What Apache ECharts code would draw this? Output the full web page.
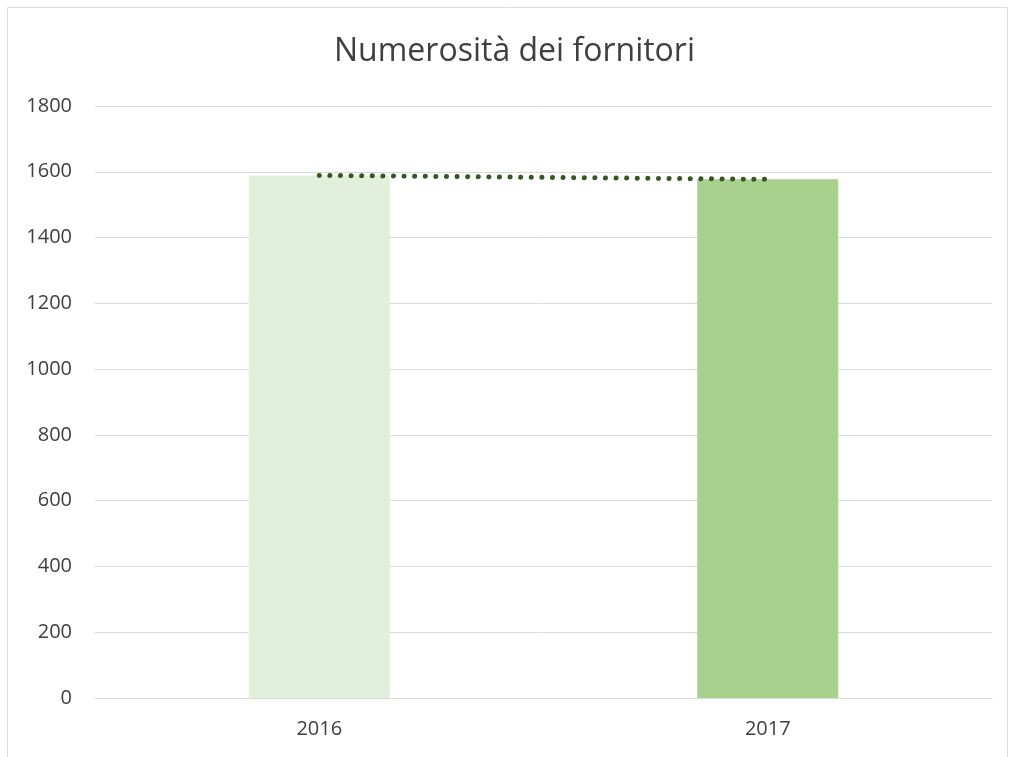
<!DOCTYPE html>
<html>
<head>
<meta charset="utf-8">
<title>Numerosità dei fornitori</title>
<script src="https://cdn.jsdelivr.net/npm/echarts@6/dist/echarts.min.js"></script>
<style>
  html, body { margin: 0; padding: 0; background: #fff; }
  #mycharts { width: 1009px; height: 757px; }
</style>
</head>
<body>
<div id="mycharts"></div>
<script>
// dati del grafico
const anni = ['2016', '2017'];
const fornitori = [1589, 1577];
const barColors = ['#E2EFDA', '#A9D18E'];

const chartDom = document.getElementById('mycharts');
const myChart = echarts.init(chartDom, null, { renderer: 'canvas' });

const labelStyle = { fontFamily: 'Open Sans', fontSize: 20, color: '#404040' };

const option = {
  backgroundColor: '#fff',
  animation: false,
  title: {
    text: 'Numerosità dei fornitori',
    left: 329,
    top: 31,
    textStyle: { fontFamily: 'Open Sans', fontWeight: 'normal', fontSize: 32, color: '#404040' }
  },
  graphic: [{
    type: 'rect',
    shape: { x: 7.5, y: 7.5, width: 1000, height: 760 },
    style: { fill: 'none', stroke: '#D9D9D9', lineWidth: 1 },
    silent: true
  }],
  grid: { left: 95, right: 17, top: 106, bottom: 59 },
  xAxis: {
    type: 'category',
    data: anni,
    axisLine: { lineStyle: { color: '#D9D9D9', width: 1 } },
    axisTick: { show: false },
    axisLabel: Object.assign({ margin: 21 }, labelStyle)
  },
  yAxis: {
    type: 'value',
    min: 0,
    max: 1800,
    interval: 200,
    axisLine: { show: false },
    axisTick: { show: false },
    splitLine: { lineStyle: { color: '#D9D9D9', width: 1 } },
    axisLabel: Object.assign({ margin: 23, formatter: v => String(v) }, labelStyle)
  },
  series: [
    {
      type: 'bar',
      barWidth: 141,
      data: fornitori.map((v, i) => ({ value: v, itemStyle: { color: barColors[i] } })),
      silent: true
    },
    {
      // linea di tendenza
      type: 'line',
      data: fornitori,
      symbol: 'none',
      silent: true,
      lineStyle: { color: '#375623', width: 5, type: [0.1, 10.5], cap: 'round' }
    }
  ]
};

myChart.setOption(option);
</script>
</body>
</html>
